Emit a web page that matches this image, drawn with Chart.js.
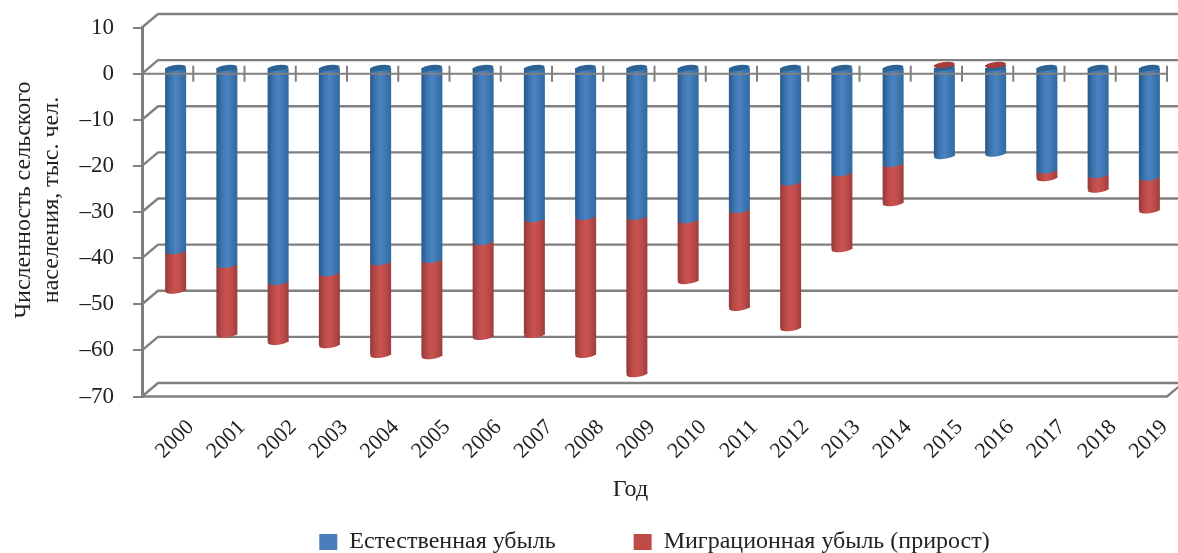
<!DOCTYPE html>
<html>
<head>
<meta charset="utf-8">
<style>
  body { margin: 0; background: #fff; }
  canvas { display: block; }
</style>
<script src="https://cdn.jsdelivr.net/npm/chart.js@4/dist/chart.umd.js"></script>
</head>
<body>
<canvas id="grafico" width="1178" height="553"></canvas>
<script>
// datos
const years = ['2000','2001','2002','2003','2004','2005','2006','2007','2008','2009','2010','2011','2012','2013','2014','2015','2016','2017','2018','2019'];
const naturalLoss = [-39.9,-42.9,-46.6,-44.7,-42.3,-41.8,-37.9,-33,-32.5,-32.5,-33.2,-31,-25,-23,-21,-19.3,-18.8,-22.4,-23.4,-24];
const migration = [-8.6,-15.1,-13,-15.6,-20.1,-20.9,-20.6,-25.1,-29.9,-34.1,-13.2,-21.2,-31.6,-16.5,-8.5,0.4,0.4,-1.7,-3.2,-7.1];
const naturalLabel = 'Естественная убыль';
const migrationLabel = 'Миграционная убыль (прирост)';
const xTitle = 'Год';
const yTitle = ['Численность сельского', 'населения, тыс. чел.'];

const FONT = '"Liberation Serif", serif';
const GRAY = '#808080';
const TEXT = '#222';
const DEPTH_X = 16;
const DEPTH_Y = 13.5;
const BAR_SHARE = 0.41;
const NBSP = '\u00a0';

const blueStops = ['#25588a', '#3c74af', '#4c84c4', '#3e76b0', '#2f6a9f'];
const redStops = ['#94383a', '#b84a48', '#cb5350', '#ba4b49', '#9e3c3c'];
const legendColors = ['#4a7ebb', '#be4b48'];

// degradado horizontal para que la barra parezca un cilindro
function cylinderFill(chart, index, stops) {
  if (!chart.chartArea) return stops[2];
  const scale = chart.scales.x;
  const half = scale.width / years.length * BAR_SHARE / 2;
  const cx = scale.getPixelForValue(index);
  const g = chart.ctx.createLinearGradient(cx - half, 0, cx + half, 0);
  stops.forEach((c, i) => g.addColorStop(i / (stops.length - 1), c));
  return g;
}

function capEllipse(ctx, x, y, w, fill) {
  ctx.beginPath();
  ctx.ellipse(x, y, w / 2, 3, -0.12, 0, Math.PI * 2);
  ctx.fillStyle = fill;
  ctx.fill();
}

// paredes, eje frontal y tapas de los cilindros
const wallsPlugin = {
  id: 'walls',
  beforeDatasetsDraw(chart) {
    const { ctx, chartArea, scales } = chart;
    ctx.save();
    ctx.strokeStyle = GRAY;
    ctx.lineWidth = 2.4;
    scales.y.ticks.forEach(t => {
      const y = scales.y.getPixelForValue(t.value);
      ctx.beginPath();
      ctx.moveTo(chartArea.left, y);
      ctx.lineTo(chartArea.left + DEPTH_X, y - DEPTH_Y);
      ctx.lineTo(chart.width, y - DEPTH_Y);
      ctx.stroke();
    });
    // piso: borde frontal y su diagonal
    ctx.beginPath();
    ctx.moveTo(chartArea.left, scales.y.bottom);
    ctx.lineTo(chartArea.right, scales.y.bottom);
    ctx.lineTo(chartArea.right + DEPTH_X, scales.y.bottom - DEPTH_Y);
    ctx.stroke();
    ctx.restore();
    ctx.save();
    ctx.translate(DEPTH_X / 2, -DEPTH_Y / 2);
  },
  afterDatasetsDraw(chart) {
    const { ctx, chartArea, scales } = chart;
    const blue = chart.getDatasetMeta(0).data;
    const red = chart.getDatasetMeta(1).data;
    years.forEach((_, i) => {
      const b = blue[i], r = red[i];
      const w = b.width;
      if (migration[i] < 0) {
        capEllipse(ctx, r.x, r.y, w, cylinderFill(chart, i, redStops));
        capEllipse(ctx, b.x, b.y, w, cylinderFill(chart, i, blueStops));
        capEllipse(ctx, b.x, b.base, w, '#2b6396');
      } else {
        capEllipse(ctx, b.x, b.y, w, cylinderFill(chart, i, blueStops));
        capEllipse(ctx, b.x, b.base, w, '#2b6396');
        capEllipse(ctx, r.x, r.y, w, '#a83c3c');
      }
    });
    ctx.restore();

    // linea del cero con sus marcas, por delante de las barras
    const y0 = scales.y.getPixelForValue(0);
    const step = scales.x.width / years.length;
    ctx.save();
    ctx.strokeStyle = GRAY;
    ctx.lineWidth = 2;
    ctx.beginPath();
    ctx.moveTo(chartArea.left, y0);
    ctx.lineTo(chartArea.right, y0);
    years.forEach((_, i) => {
      const x = scales.x.getPixelForValue(i) + step / 2;
      ctx.moveTo(x, y0 - 8);
      ctx.lineTo(x, y0 + 8);
    });
    ctx.stroke();
    ctx.restore();
  }
};

new Chart(document.getElementById('grafico'), {
  type: 'bar',
  data: {
    labels: years,
    datasets: [
      { label: naturalLabel + NBSP.repeat(13), data: naturalLoss,
        backgroundColor: c => cylinderFill(c.chart, c.dataIndex, blueStops) },
      { label: migrationLabel, data: migration,
        backgroundColor: c => cylinderFill(c.chart, c.dataIndex, redStops) }
    ]
  },
  options: {
    responsive: false,
    animation: false,
    barPercentage: BAR_SHARE,
    categoryPercentage: 1,
    layout: { padding: { top: 27.5, right: 11, left: 0, bottom: -11 } },
    scales: {
      x: {
        stacked: true,
        grid: { display: false },
        border: { display: false },
        ticks: {
          color: TEXT, font: { family: FONT, size: 22 },
          minRotation: 45, maxRotation: 45, labelOffset: 23, padding: 10
        },
        title: {
          display: true, text: xTitle + NBSP.repeat(8), color: TEXT,
          font: { family: FONT, size: 24 }, padding: { top: 0, bottom: 26 }
        },
        afterFit(scale) { scale.height = 133.5; }
      },
      y: {
        stacked: true,
        min: -70,
        max: 10,
        grid: { drawOnChartArea: false, color: GRAY, lineWidth: 2, tickLength: 9, tickColor: GRAY },
        border: { color: GRAY, width: 3 },
        ticks: {
          stepSize: 10, color: TEXT, font: { family: FONT, size: 23, lineHeight: 0.7 }, padding: 19,
          callback: v => String(v).replace('-', '–')
        },
        title: {
          display: true, text: yTitle.map(t => NBSP.repeat(4) + t), color: TEXT,
          font: { family: FONT, size: 24, lineHeight: 1.17 }, padding: { top: 10, bottom: 0 }
        },
        afterFit(scale) { scale.width = 142; }
      }
    },
    plugins: {
      tooltip: { enabled: false },
      legend: {
        position: 'bottom',
        fullSize: false,
        labels: {
          color: TEXT, font: { family: FONT, size: 24 }, boxWidth: 18, boxHeight: 16, padding: 0,
          generateLabels(chart) {
            return Chart.defaults.plugins.legend.labels.generateLabels(chart).map((item, i) => {
              item.fillStyle = legendColors[i];
              item.strokeStyle = legendColors[i];
              item.lineWidth = 0;
              return item;
            });
          }
        }
      }
    }
  },
  plugins: [wallsPlugin]
});
</script>
</body>
</html>
